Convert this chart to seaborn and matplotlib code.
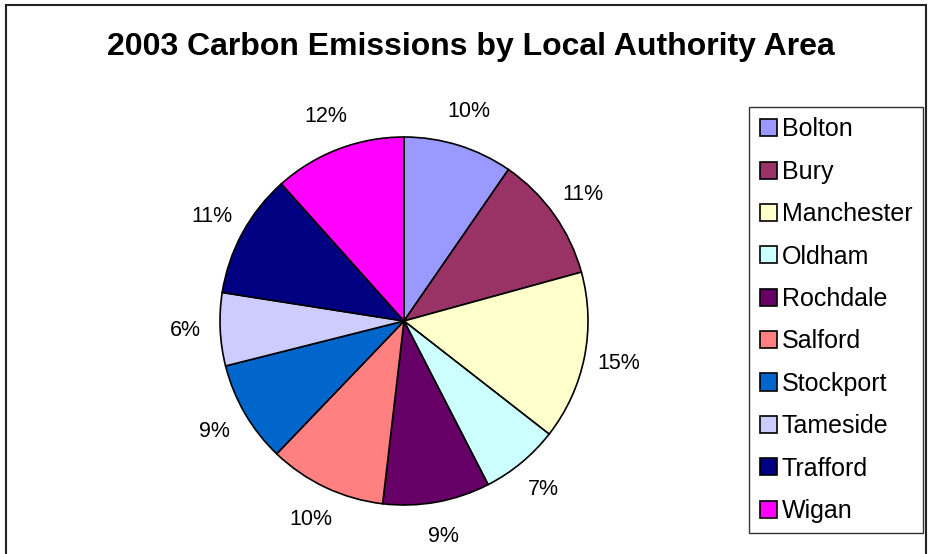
import matplotlib
matplotlib.use("Agg")
import matplotlib.pyplot as plt
import seaborn as sns
from matplotlib.patches import Rectangle

AREAS = ["Bolton", "Bury", "Manchester", "Oldham", "Rochdale",
         "Salford", "Stockport", "Tameside", "Trafford", "Wigan"]
SHARE = [9.6, 11.1, 14.8, 6.9, 9.4, 10.3, 8.9, 6.4, 10.9, 11.6]
COLOURS = ["#9999FF", "#993366", "#FFFFCC", "#CCFFFF", "#660066",
           "#FF8080", "#0066CC", "#CCCCFF", "#000080", "#FF00FF"]
TITLE = "2003 Carbon Emissions by Local Authority Area"


def main():
    sns.set_theme(style="white")
    plt.rcParams["font.family"] = ["Liberation Sans", "DejaVu Sans"]
    plt.rcParams["text.color"] = "black"

    W, H = 932, 554
    fig = plt.figure(figsize=(W / 100, H / 100), dpi=100)
    fig.patch.set_facecolor("white")

    # chart area border (bottom runs off the image)
    fig.patches.append(Rectangle((6 / W, -0.1), (926 - 6) / W, 1.1 - 5 / H,
                                 transform=fig.transFigure, fill=False,
                                 edgecolor="#222222", linewidth=1.5))

    fig.text(471 / W, 1 - 47 / H, TITLE, ha="center", va="center",
             fontsize=23, fontweight="bold", color="black")

    cx, cy, r = 404, 321, 184
    ax = fig.add_axes([(cx - r) / W, (H - cy - r) / H, 2 * r / W, 2 * r / H])
    wedges, _, autotexts = ax.pie(
        SHARE, colors=COLOURS, startangle=90, counterclock=False,
        autopct="%.0f%%", pctdistance=1.19, labeldistance=None,
        wedgeprops=dict(edgecolor="black", linewidth=1.2),
        textprops=dict(fontsize=15.5, color="black"))
    ax.set_xlim(-1, 1)
    ax.set_ylim(-1, 1)
    ax.set_axis_off()
    for t in autotexts:
        t.set_clip_on(False)

    leg = fig.legend(wedges, AREAS, loc="upper left",
                     bbox_to_anchor=(749 / W, 1 - 107 / H),
                     fontsize=18, frameon=True, fancybox=False,
                     edgecolor="black", handlelength=0.68, handleheight=0.68,
                     handletextpad=0.2, labelspacing=0.735, borderpad=0.42,
                     borderaxespad=0)
    leg.get_frame().set_linewidth(1.0)
    for t in leg.get_texts():
        t.set_color("black")

    fig.savefig("out.png", dpi=100)


if __name__ == "__main__":
    main()
